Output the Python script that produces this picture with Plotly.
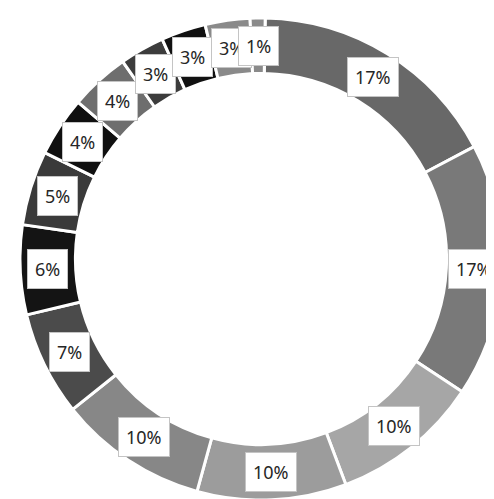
import math
import plotly.graph_objects as go

categories = ["A", "B", "C", "D", "E", "F", "G", "H", "I", "J", "K", "L", "M", "N"]
values = [17, 17, 10, 10, 10, 7, 6, 5, 4, 4, 3, 3, 3, 1]
labels = ["17%", "17%", "10%", "10%", "10%", "7%", "6%", "5%", "4%", "4%", "3%", "3%", "3%", "1%"]
colors = ["#686868", "#797979", "#a6a6a6", "#9c9c9c", "#878787", "#4b4b4b", "#141414",
          "#3a3a3a", "#101010", "#6e6e6e", "#3c3c3c", "#111111", "#8a8a8a", "#8a8a8a"]

HOLE = 0.77
ROTATION = 1.0

fig = go.Figure(go.Pie(
    labels=categories,
    values=values,
    hole=HOLE,
    sort=False,
    direction="clockwise",
    rotation=ROTATION,
    marker=dict(colors=colors, line=dict(color="white", width=3)),
    textinfo="none",
    hoverinfo="skip",
    showlegend=False,
    domain=dict(x=[0, 1], y=[0, 1]),
))

# label positions derived from the data (middle of each slice, middle of ring)
total = sum(values)
cum = 0.0
r_lab = 0.5 * (1 + HOLE) / 2
annotations = []
for v, lab in zip(values, labels):
    mid = (cum + v / 2) / total * 360.0 + ROTATION
    cum += v
    th = math.radians(mid)
    annotations.append(dict(
        x=0.5 + r_lab * math.sin(th), y=0.5 + r_lab * math.cos(th),
        xref="paper", yref="paper", text=lab, showarrow=False,
        font=dict(family="Noto Sans", size=18, color="#262626"),
        bgcolor="white", bordercolor="#c4c4c4", borderwidth=1, borderpad=7,
        xanchor="center", yanchor="middle",
    ))

fig.update_layout(
    width=494, height=499,
    margin=dict(l=12, r=0, t=10, b=7),
    paper_bgcolor="white", plot_bgcolor="white",
    annotations=annotations,
)

fig.write_html("out.html")
